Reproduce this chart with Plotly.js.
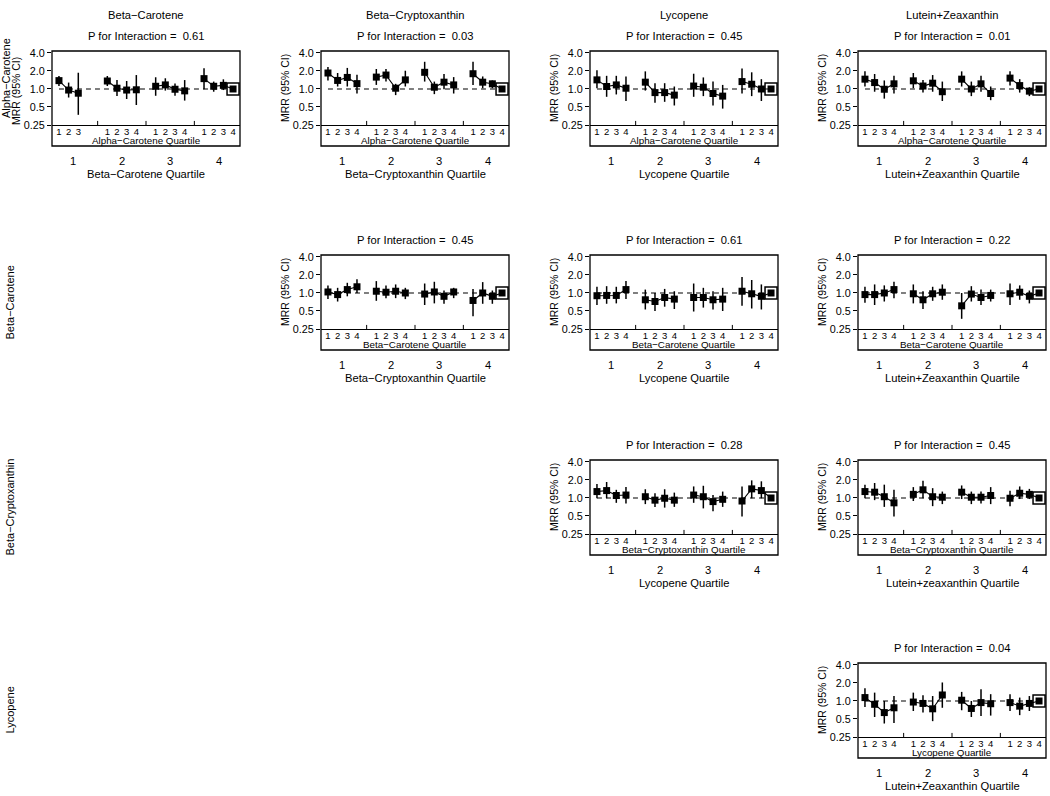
<!DOCTYPE html>
<html><head><meta charset="utf-8">
<script src="https://cdn.plot.ly/plotly-3.0.1.min.js"></script>
<style>body{margin:0;background:#fff}#chart{width:1050px;height:796px}</style>
</head><body><div id="chart"></div>
<script>
// ---------- data ----------
const colNames = ["Beta\u2212Carotene","Beta\u2212Cryptoxanthin","Lycopene","Lutein+Zeaxanthin"];
const rowNames = ["Alpha\u2212Carotene","Beta\u2212Carotene","Beta\u2212Cryptoxanthin","Lycopene"];
const subTickLabels = ["1","2","3","4"];
const groupTickLabels = ["1","2","3","4"];
const yTickVals = [0.25,0.5,1,2,4];
const yTickText = ["0.25","0.5","1.0","2.0","4.0"];
const yTitle = "MRR (95% CI)";

const panelRow = [0,0,0,0,1,1,1,2,2,3];
const panelCol = [0,1,2,3,1,2,3,2,3,3];
const pValues = ["0.61","0.03","0.45","0.01","0.45","0.61","0.22","0.28","0.45","0.04"];
const innerTitles = ["Alpha\u2212Carotene Quartile","Alpha\u2212Carotene Quartile","Alpha\u2212Carotene Quartile","Alpha\u2212Carotene Quartile",
  "Beta\u2212Carotene Quartile","Beta\u2212Carotene Quartile","Beta\u2212Carotene Quartile",
  "Beta\u2212Cryptoxanthin Quartile","Beta\u2212Cryptoxanthin Quartile","Lycopene Quartile"];
const outerTitles = ["Beta\u2212Carotene Quartile","Beta\u2212Cryptoxanthin Quartile","Lycopene Quartile","Lutein+Zeaxanthin Quartile",
  "Beta\u2212Cryptoxanthin Quartile","Lycopene Quartile","Lutein+Zeaxanthin Quartile",
  "Lycopene Quartile","Lutein+zeaxanthin Quartile","Lutein+Zeaxanthin Quartile"];

// values ordered group1 sub1..4, group2 sub1..4, ...
const p1_mrr = [1.38,0.96,0.85,null, 1.36,1.03,0.96,0.97, 1.11,1.17,0.99,0.93, 1.49,1.11,1.15,1.00];
const p1_lo  = [1.12,0.72,0.37,null, 1.12,0.76,0.68,0.54, 0.77,0.94,0.77,0.64, 0.99,0.90,0.96,null];
const p1_hi  = [1.65,1.28,1.87,null, 1.65,1.41,1.36,1.71, 1.57,1.51,1.24,1.41, 2.22,1.33,1.45,null];

const p2_mrr = [1.85,1.39,1.56,1.23, 1.58,1.71,1.03,1.42, 1.90,1.07,1.30,1.17, 1.80,1.30,1.22,1.00];
const p2_lo  = [1.39,1.10,1.10,0.84, 1.17,1.33,0.79,1.10, 1.33,0.82,0.99,0.84, 1.17,1.03,1.03,null];
const p2_hi  = [2.34,1.85,2.25,1.73, 2.16,2.16,1.22,2.02, 2.85,1.33,1.78,1.58, 2.85,1.62,1.39,null];

const p3_mrr = [1.42,1.10,1.17,1.03, 1.30,0.87,0.87,0.79, 1.12,1.07,0.84,0.76, 1.33,1.20,1.00,1.00];
const p3_lo  = [1.03,0.74,0.81,0.63, 0.94,0.59,0.61,0.53, 0.74,0.76,0.53,0.47, 0.84,0.76,0.63,null];
const p3_hi  = [2.05,1.66,1.66,1.62, 1.97,1.25,1.25,1.10, 1.80,1.56,1.33,1.17, 2.19,1.90,1.46,null];

const p4_mrr = [1.46,1.28,0.99,1.22, 1.37,1.12,1.25,0.90, 1.46,1.00,1.22,0.84, 1.52,1.14,0.92,1.00];
const p4_lo  = [1.10,0.90,0.69,0.84, 1.03,0.87,0.90,0.63, 1.10,0.76,0.90,0.65, 1.14,0.87,0.76,null];
const p4_hi  = [1.97,1.78,1.39,1.66, 1.85,1.42,1.71,1.33, 1.97,1.33,1.66,1.10, 1.97,1.46,1.07,null];

const p5_mrr = [1.04,0.94,1.14,1.27, 1.07,1.03,1.07,1.00, 0.96,1.04,0.88,1.04, 0.75,1.00,0.88,1.00];
const p5_lo  = [0.79,0.72,0.88,1.00, 0.74,0.82,0.82,0.79, 0.63,0.67,0.66,0.82, 0.41,0.66,0.66,null];
const p5_hi  = [1.34,1.22,1.48,1.69, 1.58,1.34,1.39,1.22, 1.44,1.54,1.10,1.22, 1.17,1.52,1.10,null];

const p6_mrr = [0.90,0.91,0.91,1.14, 0.77,0.72,0.84,0.79, 0.84,0.84,0.77,0.79, 1.07,0.97,0.88,1.00];
const p6_lo  = [0.63,0.66,0.67,0.79, 0.53,0.50,0.59,0.54, 0.49,0.57,0.53,0.50, 0.61,0.55,0.53,null];
const p6_hi  = [1.27,1.30,1.27,1.58, 1.14,1.00,1.17,1.07, 1.44,1.22,1.07,1.22, 1.85,1.65,1.39,null];

const p7_mrr = [0.94,0.94,1.00,1.14, 0.97,0.77,0.97,1.03, 0.61,0.96,0.84,0.91, 0.97,1.03,0.88,1.00];
const p7_lo  = [0.69,0.63,0.72,0.82, 0.67,0.54,0.74,0.77, 0.37,0.72,0.63,0.72, 0.63,0.77,0.67,null];
const p7_hi  = [1.27,1.39,1.34,1.54, 1.39,1.07,1.27,1.39, 1.00,1.30,1.14,1.14, 1.44,1.34,1.10,null];

const p8_mrr = [1.28,1.33,1.10,1.12, 1.05,0.92,0.99,0.92, 1.12,1.05,0.87,0.95, 0.89,1.42,1.33,1.00];
const p8_lo  = [0.99,0.99,0.83,0.81, 0.79,0.71,0.69,0.71, 0.83,0.67,0.60,0.71, 0.49,0.99,0.99,null];
const p8_hi  = [1.71,1.85,1.37,1.52, 1.40,1.20,1.40,1.23, 1.56,1.60,1.12,1.28, 1.56,1.97,1.90,null];

const p9_mrr = [1.28,1.25,1.05,0.83, 1.15,1.37,1.05,1.03, 1.25,1.03,1.03,1.10, 0.99,1.20,1.15,1.00];
const p9_lo  = [0.99,0.92,0.71,0.49, 0.89,0.99,0.73,0.79, 0.96,0.79,0.81,0.79, 0.73,0.96,0.96,null];
const p9_hi  = [1.67,1.78,1.67,1.37, 1.52,1.95,1.46,1.28, 1.62,1.28,1.28,1.52, 1.32,1.56,1.42,null];

const p10_mrr = [1.14,0.88,0.64,0.77, 0.96,0.91,0.74,1.26, 1.03,0.75,0.94,0.90, 0.94,0.82,0.91,1.00];
const p10_lo  = [0.79,0.54,0.42,0.43, 0.68,0.64,0.46,0.77, 0.70,0.54,0.56,0.57, 0.68,0.58,0.68,null];
const p10_hi  = [1.64,1.38,1.00,1.21, 1.38,1.25,1.21,2.04, 1.42,1.00,1.57,1.30, 1.30,1.14,1.21,null];

const panelMrr = [p1_mrr,p2_mrr,p3_mrr,p4_mrr,p5_mrr,p6_mrr,p7_mrr,p8_mrr,p9_mrr,p10_mrr];
const panelLo  = [p1_lo,p2_lo,p3_lo,p4_lo,p5_lo,p6_lo,p7_lo,p8_lo,p9_lo,p10_lo];
const panelHi  = [p1_hi,p2_hi,p3_hi,p4_hi,p5_hi,p6_hi,p7_hi,p8_hi,p9_hi,p10_hi];

// ---------- layout geometry ----------
const W = 1050, H = 796;
const FONT = "Liberation Sans, Arial, Helvetica, sans-serif";
const fx = v => v / W, fy = v => 1 - v / H;
const boxLeft = [52, 321, 590, 858], boxW = 188;
const boxTop = [51, 255, 460, 663], plotH = 74, boxH = 95;
const nGroups = 4, nSub = 4, groupStep = 5;
const xPos = (g, s) => g * groupStep + s + 1;

const traces = [], shapes = [], annotations = [];
const layout = {
  width: W, height: H, margin: {l:0, r:0, t:0, b:0},
  paper_bgcolor: "#fff", plot_bgcolor: "rgba(0,0,0,0)",
  showlegend: false, font: {family: FONT, color: "#000", size: 11},
  shapes, annotations
};

const xMin = xPos(0,0), xMax = xPos(nGroups-1, nSub-1);

colNames.forEach((name, c) => {
  annotations.push({xref:"paper", yref:"paper", x: fx(boxLeft[c] + boxW/2), y: fy(15), text: name,
    showarrow:false, xanchor:"center", yanchor:"middle", font:{size:11.2}});
});
rowNames.forEach((name, r) => {
  const yc = r === 0 ? 78 : boxTop[r] + boxH/2;
  annotations.push({xref:"paper", yref:"paper", x: fx(r === 0 ? 6 : 9), y: fy(yc), text: name, textangle:-90,
    showarrow:false, xanchor:"center", yanchor:"middle", font:{size:11}});
});

panelRow.forEach((row, i) => {
  const col = panelCol[i];
  const n = i + 1, sfx = n > 1 ? String(n) : "";
  const xa = "x" + sfx, ya = "y" + sfx;
  const L = boxLeft[col], T = boxTop[row];
  const mrr = panelMrr[i], lo = panelLo[i], hi = panelHi[i];

  const tickVals = [], tickText = [];
  for (let g = 0; g < nGroups; g++) for (let s = 0; s < nSub; s++) {
    if (mrr[g*nSub + s] == null) continue;
    tickVals.push(xPos(g, s)); tickText.push(subTickLabels[s]);
  }

  layout["xaxis" + sfx] = {
    domain: [fx(L), fx(L + boxW)], anchor: ya, range: [xMin - 0.72, xMax + 0.72],
    tickmode: "array", tickvals: tickVals, ticktext: tickText, ticks: "",
    showline: true, linecolor: "#000", linewidth: 1.3, showgrid: false, zeroline: false,
    tickfont: {size: 9.5}, ticklabelstandoff: -3, fixedrange: true
  };
  layout["yaxis" + sfx] = {
    domain: [fy(T + plotH), fy(T)], anchor: xa, type: "log",
    range: [Math.log10(0.25), Math.log10(4) + 0.033],
    tickmode: "array", tickvals: yTickVals, ticktext: yTickText,
    ticks: "outside", ticklen: 4, tickwidth: 1, tickcolor: "#000",
    showline: false, showgrid: false, zeroline: false, tickfont: {size: 10.8}, fixedrange: true
  };

  // reference dashed line at MRR = 1
  traces.push({x:[xMin, xMax], y:[1,1], xaxis:xa, yaxis:ya, mode:"lines", hoverinfo:"skip",
    line:{color:"#000", width:1.2, dash:"5px,4px"}});
  // reference category outer square
  const refIdx = nGroups*nSub - 1;
  traces.push({x:[xPos(nGroups-1, nSub-1)], y:[mrr[refIdx]], xaxis:xa, yaxis:ya, mode:"markers", hoverinfo:"skip",
    marker:{symbol:"square", size:12, color:"#fff", line:{color:"#000", width:1.5}}});
  // main series
  const xs = [], ys = [], ep = [], em = [];
  for (let g = 0; g < nGroups; g++) {
    for (let s = 0; s < nSub; s++) {
      const k = g*nSub + s;
      xs.push(xPos(g, s)); ys.push(mrr[k]);
      ep.push(hi[k] == null || mrr[k] == null ? 0 : hi[k] - mrr[k]);
      em.push(lo[k] == null || mrr[k] == null ? 0 : mrr[k] - lo[k]);
    }
    if (g < nGroups - 1) { xs.push(null); ys.push(null); ep.push(0); em.push(0); }
  }
  traces.push({x:xs, y:ys, xaxis:xa, yaxis:ya, mode:"lines+markers", connectgaps:false,
    line:{color:"#000", width:1.1}, marker:{symbol:"square", size:7, color:"#000"},
    error_y:{type:"data", symmetric:false, array:ep, arrayminus:em, width:0, thickness:1.5, color:"#000"}});

  // outer box
  shapes.push({type:"rect", xref:"paper", yref:"paper", x0:fx(L), x1:fx(L+boxW), y0:fy(T+boxH), y1:fy(T),
    line:{color:"#000", width:1.3}, fillcolor:"rgba(0,0,0,0)"});
  // group separator ticks
  for (let g = 1; g < nGroups; g++) {
    const xs0 = (xPos(g-1, nSub-1) + xPos(g, 0)) / 2;
    shapes.push({type:"line", xref:xa, yref:ya + " domain", x0:xs0, x1:xs0, y0:0, y1:0.055, line:{color:"#000", width:1}});
  }
  // titles
  annotations.push({xref:"paper", yref:"paper", x: fx(L + boxW/2), y: fy(T - 15),
    text: "P for Interaction = \u00a0" + pValues[i], showarrow:false, xanchor:"center", yanchor:"middle", font:{size:11.2}});
  annotations.push({xref:"paper", yref:"paper", x: fx(L + boxW/2), y: fy(T + 89.5),
    text: innerTitles[i], showarrow:false, xanchor:"center", yanchor:"middle", font:{size:9.8}});
  for (let g = 0; g < nGroups; g++) {
    annotations.push({xref:xa, yref:"paper", x:(xPos(g,0)+xPos(g,nSub-1))/2, y: fy(T + 110),
      text: groupTickLabels[g], showarrow:false, xanchor:"center", yanchor:"middle", font:{size:11.2}});
  }
  annotations.push({xref:"paper", yref:"paper", x: fx(L + boxW/2), y: fy(T + 122.5),
    text: outerTitles[i], showarrow:false, xanchor:"center", yanchor:"middle", font:{size:11.2}});
  annotations.push({xref:"paper", yref:"paper", x: fx(L - 36), y: fy(row === 0 && col === 0 ? T + 40 : T + plotH/2),
    text: yTitle, textangle:-90, showarrow:false, xanchor:"center", yanchor:"middle", font:{size:10.5}});
});

Plotly.newPlot("chart", traces, layout, {staticPlot:true, displayModeBar:false});
</script>
</body></html>
